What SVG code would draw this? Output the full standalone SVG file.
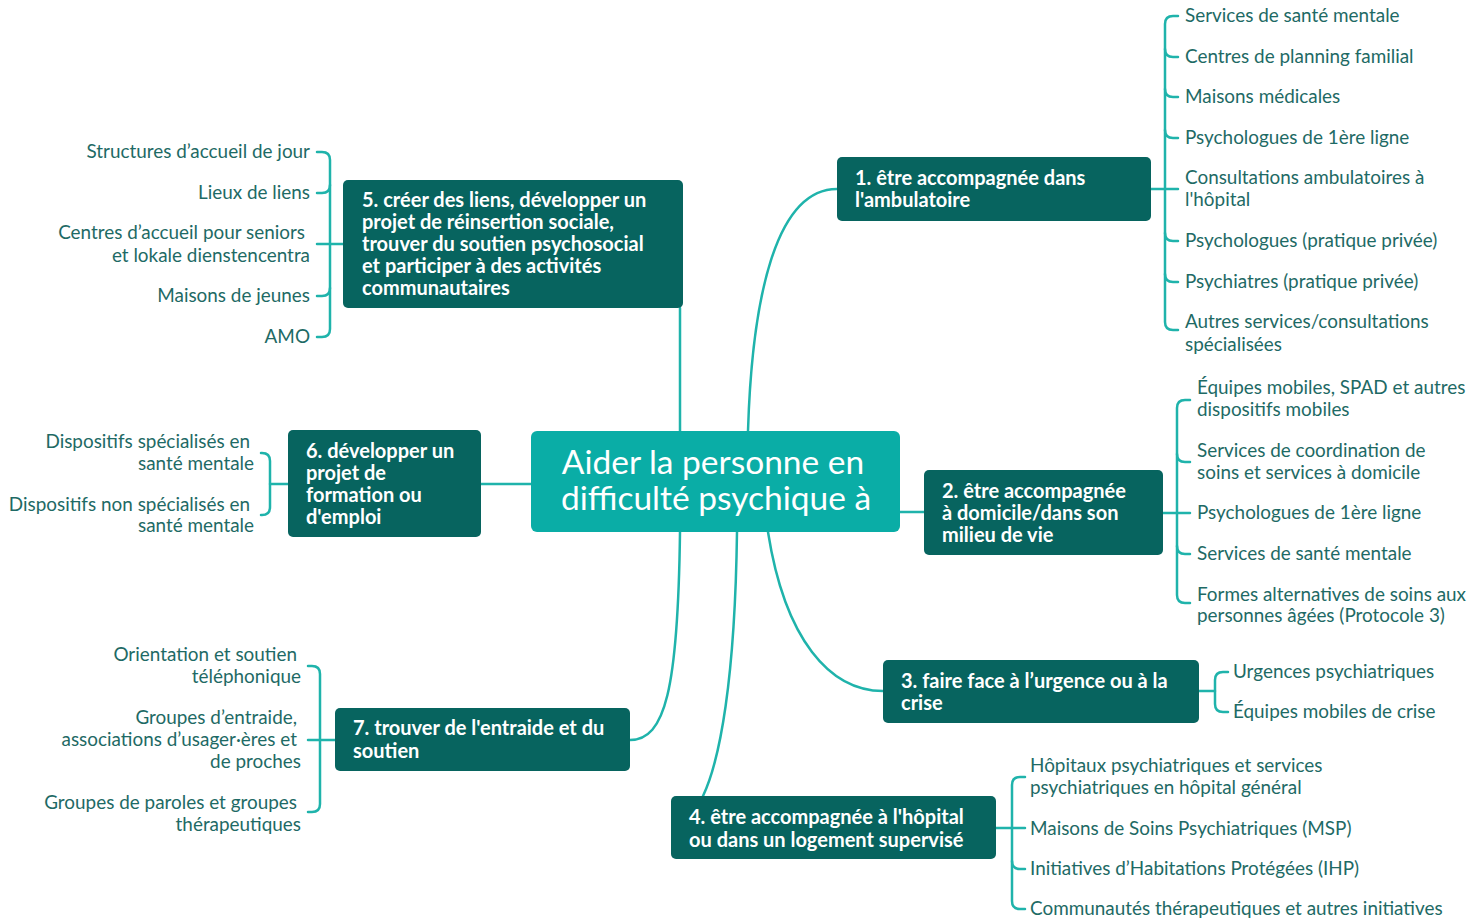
<svg xmlns="http://www.w3.org/2000/svg" width="1483" height="919" viewBox="0 0 1483 919">
<style>
.bg{fill:#ffffff}
.c{fill:none;stroke:#1fb3ab;stroke-width:2.5;stroke-linecap:round}
.n{fill:#07645f}
.ctr{fill:#0aada6}
.nt{font-family:Lato,"Open Sans",sans-serif;font-weight:bold;font-size:20px;fill:#ffffff}
.ct{font-family:Lato,"Open Sans",sans-serif;font-size:33.5px;fill:#ffffff;text-anchor:middle}
.l{font-family:Lato,"Open Sans",sans-serif;font-size:18.9px;fill:#1e6a65}
.r{text-anchor:end}
</style>
<rect class="bg" x="0" y="0" width="1483" height="919"/>
<g id="connectors">
<path class="c" d="M748,431 C752,300 775,189 837,189"/>
<path class="c" d="M680,308 V431"/>
<path class="c" d="M481,484 H531"/>
<path class="c" d="M900,512 H924"/>
<path class="c" d="M768,532 C785,640 830,691 883,691"/>
<path class="c" d="M737,532 C735,680 720,760 703,796"/>
<path class="c" d="M680,532 C678,690 665,740 630,740"/>
<!-- bracket 1 -->
<path class="c" d="M1151,189 H1178"/>
<path class="c" d="M1178,16 h-5 q-8,0 -8,8 V322 q0,8 8,8 h5"/>
<path class="c" d="M1165,49 q0,8 8,8 h5"/>
<path class="c" d="M1165,89 q0,8 8,8 h5"/>
<path class="c" d="M1165,130 q0,8 8,8 h5"/>
<path class="c" d="M1165,233 q0,8 8,8 h5"/>
<path class="c" d="M1165,274 q0,8 8,8 h5"/>
<!-- bracket 2 -->
<path class="c" d="M1163,513 H1190"/>
<path class="c" d="M1190,400 h-5 q-8,0 -8,8 V595 q0,8 8,8 h5"/>
<path class="c" d="M1177,454 q0,8 8,8 h5"/>
<path class="c" d="M1177,546 q0,8 8,8 h5"/>
<!-- bracket 3 -->
<path class="c" d="M1199,691 H1215"/>
<path class="c" d="M1228,672 h-5 q-8,0 -8,8 V704 q0,8 8,8 h5"/>
<!-- bracket 4 -->
<path class="c" d="M996,828 H1025"/>
<path class="c" d="M1025,777 h-5 q-8,0 -8,8 V901 q0,8 8,8 h5"/>
<path class="c" d="M1012,861 q0,8 8,8 h5"/>
<!-- bracket 5 -->
<path class="c" d="M343,244 H317"/>
<path class="c" d="M317,152 h5 q8,0 8,8 V329 q0,8 -8,8 h-5"/>
<path class="c" d="M330,185 q0,8 -8,8 h-5"/>
<path class="c" d="M330,288 q0,8 -8,8 h-5"/>
<!-- bracket 6 -->
<path class="c" d="M288,484 H270"/>
<path class="c" d="M261,453 h1 q8,0 8,8 V507 q0,8 -8,8 h-1"/>
<!-- bracket 7 -->
<path class="c" d="M335,740 H308"/>
<path class="c" d="M308,666 h4 q8,0 8,8 V804 q0,8 -8,8 h-4"/>
</g>
<g id="center">
<rect class="ctr" x="531" y="431" width="369" height="101" rx="6"/>
<text class="ct" x="713" y="474">Aider la personne en</text>
<text class="ct" x="716" y="510">difficulté psychique à</text>
</g>
<g id="node1">
<rect class="n" x="837" y="157" width="314" height="64" rx="5"/>
<text class="nt" x="855" y="185">1. être accompagnée dans</text>
<text class="nt" x="855" y="207">l'ambulatoire</text>
</g>
<g id="node2">
<rect class="n" x="924" y="470" width="239" height="85" rx="5"/>
<text class="nt" x="942" y="498">2. être accompagnée</text>
<text class="nt" x="942" y="520">à domicile/dans son</text>
<text class="nt" x="942" y="542">milieu de vie</text>
</g>
<g id="node3">
<rect class="n" x="883" y="660" width="316" height="63" rx="5"/>
<text class="nt" x="901" y="688">3. faire face à l’urgence ou à la</text>
<text class="nt" x="901" y="710">crise</text>
</g>
<g id="node4">
<rect class="n" x="671" y="796" width="325" height="63" rx="5"/>
<text class="nt" x="689" y="824">4. être accompagnée à l'hôpital</text>
<text class="nt" x="689" y="847">ou dans un logement supervisé</text>
</g>
<g id="node5">
<rect class="n" x="343" y="180" width="340" height="128" rx="5"/>
<text class="nt" x="362" y="207">5. créer des liens, développer un</text>
<text class="nt" x="362" y="229">projet de réinsertion sociale,</text>
<text class="nt" x="362" y="251">trouver du soutien psychosocial</text>
<text class="nt" x="362" y="273">et participer à des activités</text>
<text class="nt" x="362" y="295">communautaires</text>
</g>
<g id="node6">
<rect class="n" x="288" y="430" width="193" height="107" rx="5"/>
<text class="nt" x="306" y="458">6. développer un</text>
<text class="nt" x="306" y="480">projet de</text>
<text class="nt" x="306" y="502">formation ou</text>
<text class="nt" x="306" y="524">d'emploi</text>
</g>
<g id="node7">
<rect class="n" x="335" y="708" width="295" height="63" rx="5"/>
<text class="nt" x="353" y="735">7. trouver de l'entraide et du</text>
<text class="nt" x="353" y="758">soutien</text>
</g>
<g id="labels1">
<text class="l" x="1185" y="22">Services de santé mentale</text>
<text class="l" x="1185" y="63">Centres de planning familial</text>
<text class="l" x="1185" y="103">Maisons médicales</text>
<text class="l" x="1185" y="144">Psychologues de 1ère ligne</text>
<text class="l" x="1185" y="184">Consultations ambulatoires à</text>
<text class="l" x="1185" y="206">l'hôpital</text>
<text class="l" x="1185" y="247">Psychologues (pratique privée)</text>
<text class="l" x="1185" y="288">Psychiatres (pratique privée)</text>
<text class="l" x="1185" y="328">Autres services/consultations</text>
<text class="l" x="1185" y="351">spécialisées</text>
</g>
<g id="labels2">
<text class="l" x="1197" y="394">Équipes mobiles, SPAD et autres</text>
<text class="l" x="1197" y="416">dispositifs mobiles</text>
<text class="l" x="1197" y="457">Services de coordination de</text>
<text class="l" x="1197" y="479">soins et services à domicile</text>
<text class="l" x="1197" y="519">Psychologues de 1ère ligne</text>
<text class="l" x="1197" y="560">Services de santé mentale</text>
<text class="l" x="1197" y="601">Formes alternatives de soins aux</text>
<text class="l" x="1197" y="622">personnes âgées (Protocole 3)</text>
</g>
<g id="labels3">
<text class="l" x="1233" y="678">Urgences psychiatriques</text>
<text class="l" x="1233" y="718">Équipes mobiles de crise</text>
</g>
<g id="labels4">
<text class="l" x="1030" y="772">Hôpitaux psychiatriques et services</text>
<text class="l" x="1030" y="794">psychiatriques en hôpital général</text>
<text class="l" x="1030" y="835">Maisons de Soins Psychiatriques (MSP)</text>
<text class="l" x="1030" y="875">Initiatives d’Habitations Protégées (IHP)</text>
<text class="l" x="1030" y="915">Communautés thérapeutiques et autres initiatives</text>
</g>
<g id="labels5">
<text class="l r" x="310" y="158">Structures d’accueil de jour</text>
<text class="l r" x="310" y="199">Lieux de liens</text>
<text class="l r" x="305" y="239">Centres d’accueil pour seniors</text>
<text class="l r" x="310" y="262">et lokale dienstencentra</text>
<text class="l r" x="310" y="302">Maisons de jeunes</text>
<text class="l r" x="310" y="343">AMO</text>
</g>
<g id="labels6">
<text class="l r" x="250" y="448">Dispositifs spécialisés en</text>
<text class="l r" x="254" y="470">santé mentale</text>
<text class="l r" x="250" y="511">Dispositifs non spécialisés en</text>
<text class="l r" x="254" y="532">santé mentale</text>
</g>
<g id="labels7">
<text class="l r" x="297" y="661">Orientation et soutien</text>
<text class="l r" x="301" y="683">téléphonique</text>
<text class="l r" x="297" y="724">Groupes d’entraide,</text>
<text class="l r" x="297" y="746">associations d’usager·ères et</text>
<text class="l r" x="301" y="768">de proches</text>
<text class="l r" x="297" y="809">Groupes de paroles et groupes</text>
<text class="l r" x="301" y="831">thérapeutiques</text>
</g>
</svg>
